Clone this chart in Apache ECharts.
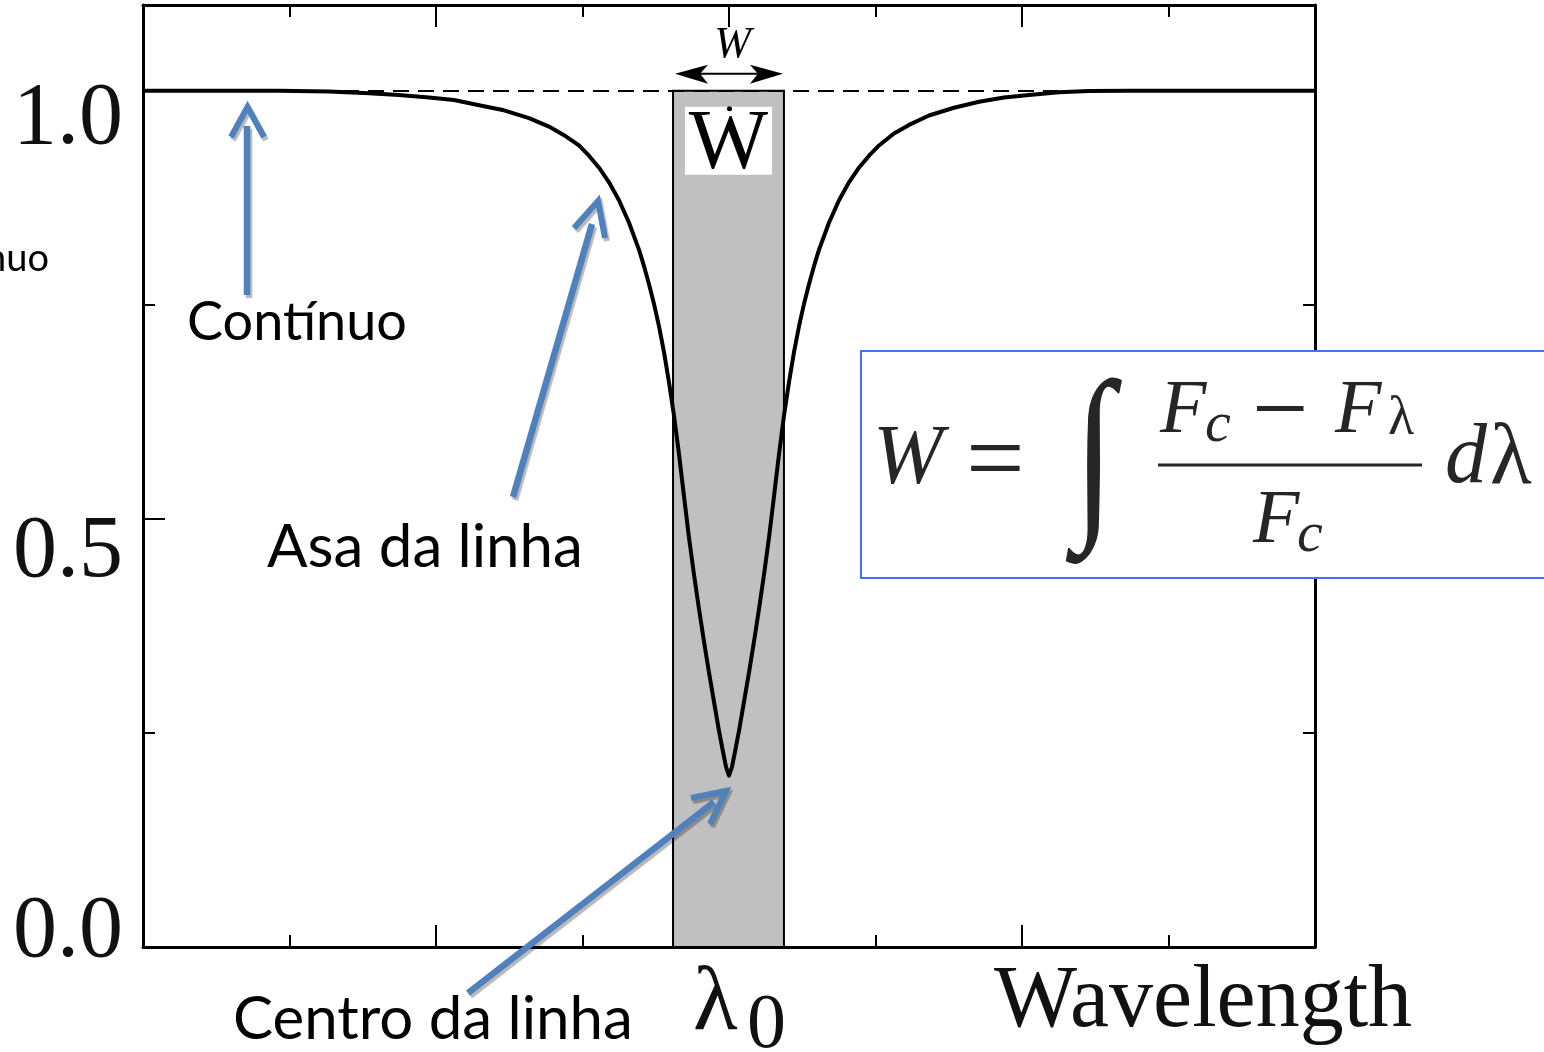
<!DOCTYPE html>
<html><head><meta charset="utf-8">
<script src="https://cdn.jsdelivr.net/npm/echarts@6/dist/echarts.min.js"></script>
<style>html,body{margin:0;padding:0;background:#fff;overflow:hidden}#c{width:1544px;height:1052px}</style>
</head><body><div id="c"></div>
<script>
// ---- data ----
const wavelength = [0.000,0.500,0.928,1.270,1.543,1.747,1.952,2.123,2.294,2.464,2.635,2.771,2.874,2.976,3.044,3.113,3.181,3.249,3.317,3.386,3.420,3.454,3.488,3.522,3.556,3.590,3.625,3.659,3.693,3.727,3.761,3.795,3.829,3.863,3.898,3.932,3.959,3.980,4.000,
  4.020,4.041,4.068,4.102,4.137,4.171,4.205,4.239,4.273,4.307,4.341,4.375,4.410,4.444,4.478,4.512,4.546,4.580,4.614,4.683,4.751,4.819,4.887,4.956,5.024,5.126,5.229,5.365,5.536,5.707,5.877,6.048,6.253,6.457,6.730,8.000];
const flux = [1.000,1.000,1.000,0.999,0.997,0.995,0.992,0.989,0.983,0.977,0.968,0.958,0.948,0.936,0.924,0.910,0.893,0.872,0.846,0.814,0.795,0.774,0.751,0.725,0.695,0.660,0.620,0.575,0.526,0.478,0.435,0.395,0.357,0.321,0.286,0.252,0.228,0.210,0.200,
  0.210,0.228,0.252,0.286,0.321,0.357,0.395,0.435,0.478,0.526,0.575,0.620,0.660,0.695,0.725,0.751,0.774,0.795,0.814,0.846,0.872,0.893,0.910,0.924,0.936,0.950,0.960,0.971,0.980,0.987,0.992,0.995,0.998,0.9995,1.000,1.000];
const continuum = 1.0;
const lineCenter = 4.0;
const bandRange = [3.618, 4.375];
const yTickValues = [0, 0.5, 1.0];
const yTickLabels = ['0.0', '0.5', '1.0'];
const xAxisTitle = 'Wavelength';
const centerSymbol = 'λ';
const centerSub = '0';
const annotations = ['Contínuo', 'Asa da linha', 'Centro da linha'];

// ---- styles ----
const serif = "'Liberation Serif','Times New Roman',serif";
const sans = "Lato,'Open Sans',sans-serif";
const blue = '#4f81bd';
const yLabelShift = [-14, 34, 29];

const chart = echarts.init(document.getElementById('c'), null, {renderer: 'canvas'});

function xAxisCfg(pos) {
  return {type: 'value', position: pos, min: 0, max: 8, interval: 2,
    axisLine: {show: true, onZero: false, lineStyle: {color: '#000', width: 3}},
    axisTick: {show: true, inside: true, length: 22, lineStyle: {color: '#000', width: 2}},
    minorTick: {show: true, splitNumber: 2, length: 12, lineStyle: {color: '#000', width: 2}},
    axisLabel: {show: false}, splitLine: {show: false}, minorSplitLine: {show: false}};
}
function yAxisCfg(pos, step, len, line) {
  return {type: 'value', position: pos, min: 0, max: 1.1, interval: step,
    axisLine: {show: line, onZero: false, lineStyle: {color: '#000', width: 3}},
    axisTick: {show: true, inside: true, length: len, lineStyle: {color: '#000', width: 2}},
    axisLabel: {show: false}, splitLine: {show: false}};
}

chart.setOption({
  animation: false,
  backgroundColor: '#fff',
  grid: {left: 143, top: 5, width: 1172, height: 942},
  xAxis: [xAxisCfg('bottom'), xAxisCfg('top')],
  yAxis: [yAxisCfg('left', 0.5, 22, true), yAxisCfg('left', 0.25, 12, false),
          yAxisCfg('right', 0.5, 22, true), yAxisCfg('right', 0.25, 12, false)],
  series: [{
    type: 'line',
    xAxisIndex: 0, yAxisIndex: 0,
    data: wavelength.map((x, i) => [x, flux[i]]),
    showSymbol: false,
    smooth: false,
    lineStyle: {color: '#000', width: 4, join: 'round'},
    z: 4,
    silent: true,
    markArea: {
      silent: true,
      itemStyle: {color: '#c0c0c0', borderColor: '#000', borderWidth: 2},
      data: [[{xAxis: bandRange[0], yAxis: 0}, {xAxis: bandRange[1], yAxis: continuum}]]
    },
    markLine: {
      silent: true, symbol: 'none', label: {show: false},
      lineStyle: {color: '#000', width: 2, type: [16, 9]},
      data: [{yAxis: continuum}]
    }
  }]
});

const P = (x, y) => chart.convertToPixel({xAxisIndex: 0, yAxisIndex: 0}, [x, y]);
const g = [];
function txt(x, y, text, font, align, fill, extra) {
  g.push(Object.assign({type: 'text', z: 100, x: x, y: y,
    style: {text: text, font: font, align: align || 'left', verticalAlign: 'middle', fill: fill || '#000'}}, extra || {}));
}
function arrowShaft(points, w) {
  g.push({type: 'polyline', z: 90, shape: {points: points},
    style: {stroke: blue, lineWidth: w, fill: null, lineCap: 'butt', lineJoin: 'miter',
      shadowColor: 'rgba(0,0,0,0.28)', shadowOffsetX: 2, shadowOffsetY: 3, shadowBlur: 1}});
}

// y tick labels
yTickValues.forEach((v, i) => {
  const p = P(0, v);
  txt(13, p[1] + yLabelShift[i], yTickLabels[i], '88px ' + serif, 'left', '#111');
});

// lambda_0 label and axis title
const pc = P(lineCenter, 0);
txt(pc[0] - 36, pc[1] + 58, centerSymbol, '92px ' + serif, 'left', '#111');
txt(pc[0] + 18, pc[1] + 80, centerSub, '78px ' + serif, 'left', '#111');
txt(994, pc[1] + 56, xAxisTitle, '88px ' + serif, 'left', '#111');

// band annotations
const bl = P(bandRange[0], continuum), br = P(bandRange[1], continuum);
const bc = (bl[0] + br[0]) / 2;
g.push({type: 'rect', z: 95, shape: {x: bl[0] + 12, y: bl[1] + 16, width: 87, height: 68}, style: {fill: '#fff'}});
txt(bc, bl[1] + 55, 'W', '84px ' + serif, 'center', '#000');
g.push({type: 'circle', z: 101, shape: {cx: bc + 1, cy: bl[1] + 18, r: 2.5}, style: {fill: '#000'}});
// double arrow with W above
const ay = bl[1] - 17;
txt(bc + 4, bl[1] - 45, 'W', 'italic 44px ' + serif, 'center', '#000');
g.push({type: 'line', z: 100, shape: {x1: bl[0] + 24, y1: ay, x2: br[0] - 24, y2: ay}, style: {stroke: '#000', lineWidth: 2}});
g.push({type: 'polygon', z: 100, shape: {points: [[bl[0] + 2, ay], [bl[0] + 35, ay - 9], [bl[0] + 27, ay], [bl[0] + 35, ay + 10]]}, style: {fill: '#000'}});
g.push({type: 'polygon', z: 100, shape: {points: [[br[0] - 1, ay], [br[0] - 34, ay - 9], [br[0] - 26, ay], [br[0] - 34, ay + 10]]}, style: {fill: '#000'}});

// formula box
g.push({type: 'rect', z: 96, shape: {x: 861, y: 351, width: 720, height: 227}, style: {fill: '#fff', stroke: '#4472ee', lineWidth: 2}});
const fc = '#262626';
txt(873, 461, 'W', 'italic 84px ' + serif, 'left', fc);
txt(966, 466, '=', '104px ' + serif, 'left', fc);
txt(0, 0, '∫', 'italic 190px ' + serif, 'center', fc, {x: 1094, y: 463, scaleX: 0.78});
g.push({type: 'line', z: 100, shape: {x1: 1158, y1: 465, x2: 1422, y2: 465}, style: {stroke: fc, lineWidth: 3}});
txt(1160, 412, 'F', 'italic 76px ' + serif, 'left', fc);
txt(1205, 426, 'c', 'italic 58px ' + serif, 'left', fc);
txt(1252, 416, '−', '100px ' + serif, 'left', fc);
txt(1335, 412, 'F', 'italic 76px ' + serif, 'left', fc);
txt(1388, 420, 'λ', '54px ' + serif, 'left', fc);
txt(1253, 522, 'F', 'italic 76px ' + serif, 'left', fc);
txt(1297, 536, 'c', 'italic 58px ' + serif, 'left', fc);
txt(1445, 460, 'd', 'italic 84px ' + serif, 'left', fc);
txt(1490, 460, 'λ', '86px ' + serif, 'left', fc);

// annotations (text + blue arrows)
txt(49, 259, annotations[0], '38px ' + sans, 'right', '#000');
txt(187, 323, annotations[0], '54px ' + sans, 'left', '#000');
txt(267, 548, annotations[1], '60px ' + sans, 'left', '#000');
txt(233, 1020, annotations[2], '60px ' + sans, 'left', '#000');

arrowShaft([[247, 295], [247, 126]], 6.5);
arrowShaft([[231, 137], [247.5, 107], [264, 137]], 6);
arrowShaft([[513, 497], [592, 224]], 6.5);
arrowShaft([[574, 228], [598, 201], [605, 238]], 6);
arrowShaft([[468, 993], [714, 802]], 6.5);
arrowShaft([[691, 798], [726, 791], [710, 824]], 6);

chart.setOption({graphic: g});
</script>
</body></html>
